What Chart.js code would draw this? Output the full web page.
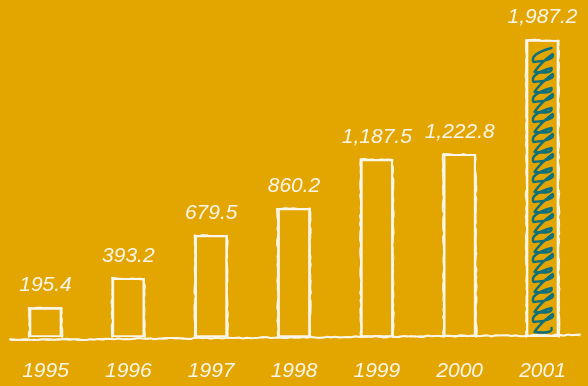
<!DOCTYPE html>
<html>
<head>
<meta charset="utf-8">
<script src="https://cdn.jsdelivr.net/npm/chart.js@4/dist/chart.umd.min.js"></script>
<style>
  html, body { margin: 0; padding: 0; background: #e3a500; }
  #wrap { width: 588px; height: 386px; position: relative; }
</style>
</head>
<body>
<div id="wrap"><canvas id="chart"></canvas></div>
<script>
const years = ['1995', '1996', '1997', '1998', '1999', '2000', '2001'];
const totals = [195.4, 393.2, 679.5, 860.2, 1187.5, 1222.8, 1987.2];
const filledYear = '2001';

const CHALK = '#fbf6ea';
const TEAL = '#10707a';
const FONT = '"Liberation Sans", "DejaVu Sans", sans-serif';

// small seeded generator so the chalk wobble is the same every render
function mulberry32(a) {
  return function () {
    a |= 0; a = a + 0x6D2B79F5 | 0;
    let t = Math.imul(a ^ a >>> 15, 1 | a);
    t = t + Math.imul(t ^ t >>> 7, 61 | t) ^ t;
    return ((t ^ t >>> 14) >>> 0) / 4294967296;
  };
}

function chalkLine(ctx, x1, y1, x2, y2, rnd) {
  const len = Math.hypot(x2 - x1, y2 - y1);
  const steps = Math.max(2, Math.round(len / 4));
  const nx = -(y2 - y1) / len, ny = (x2 - x1) / len;
  ctx.beginPath();
  for (let i = 0; i <= steps; i++) {
    const t = i / steps;
    const j = (rnd() - 0.5) * 1.6;
    const x = x1 + (x2 - x1) * t + nx * j;
    const y = y1 + (y2 - y1) * t + ny * j;
    if (i === 0) ctx.moveTo(x, y); else ctx.lineTo(x, y);
  }
  ctx.stroke();
}

const chalkBars = {
  id: 'chalkBars',
  afterDatasetsDraw(chart) {
    const ctx = chart.ctx;
    const rnd = mulberry32(7);
    const meta = chart.getDatasetMeta(0);
    const base = chart.scales.x.top;
    ctx.save();

    // scribble fill for the highlighted year
    meta.data.forEach((bar, i) => {
      if (chart.data.labels[i] !== filledYear) return;
      const l = bar.x - bar.width / 2 + 5, r = bar.x + bar.width / 2 - 5;
      const top = bar.y + 6, bottom = bar.base - 8;
      ctx.save();
      ctx.strokeStyle = TEAL;
      ctx.lineWidth = 2.4;
      ctx.lineCap = 'round';
      ctx.lineJoin = 'round';
      ctx.beginPath();
      let y = top + 10;
      ctx.moveTo(r - 2, top + 2);
      while (y < bottom) {
        ctx.quadraticCurveTo(l - 2, y - 2, l + 2, y + 6);
        ctx.quadraticCurveTo(r + 3, y + 4, r - 1, y - 2);
        ctx.quadraticCurveTo(l + 8, y + 8, l + 3, y + 16);
        ctx.quadraticCurveTo(r, y + 18, r - 2, y + 12);
        y += 20;
      }
      ctx.stroke();
      ctx.restore();
    });

    // rough chalk outlines on top of the library's bar borders
    ctx.strokeStyle = CHALK;
    ctx.lineCap = 'round';
    meta.data.forEach((bar) => {
      const l = bar.x - bar.width / 2, r = bar.x + bar.width / 2;
      const t = bar.y, b = bar.base;
      for (let pass = 0; pass < 2; pass++) {
        ctx.lineWidth = pass ? 1 : 1.6;
        chalkLine(ctx, l, b, l - 0.5, t, rnd);
        chalkLine(ctx, l - 0.5, t, r, t + 0.5, rnd);
        chalkLine(ctx, r, t + 0.5, r + 0.5, b, rnd);
      }
    });

    // wobbly baseline
    const area = chart.chartArea;
    for (let pass = 0; pass < 2; pass++) {
      ctx.lineWidth = pass ? 1 : 2;
      chalkLine(ctx, area.left + 6, base + 3, area.right - 4, base - 2, rnd);
    }

    // value labels above each bar
    ctx.fillStyle = CHALK;
    ctx.font = 'italic 21px ' + FONT;
    ctx.textAlign = 'center';
    ctx.textBaseline = 'bottom';
    meta.data.forEach((bar, i) => {
      const v = chart.data.datasets[0].data[i];
      const txt = v.toLocaleString('en-US', { minimumFractionDigits: 1, maximumFractionDigits: 1 });
      ctx.fillText(txt, bar.x, bar.y - 12);
    });
    ctx.restore();
  }
};

new Chart(document.getElementById('chart'), {
  type: 'bar',
  data: {
    labels: years,
    datasets: [{
      data: totals,
      backgroundColor: 'rgba(0,0,0,0)',
      borderColor: CHALK,
      borderWidth: 1.5,
      borderSkipped: false,
      barThickness: 32
    }]
  },
  options: {
    responsive: true,
    maintainAspectRatio: false,
    animation: false,
    layout: { padding: { left: 2, right: 4, top: 20, bottom: 0 } },
    plugins: { legend: { display: false }, tooltip: { enabled: false } },
    scales: {
      x: {
        grid: { display: false, drawTicks: false },
        border: { display: false },
        afterFit(scale) { scale.height = 49; },
        ticks: {
          color: CHALK,
          padding: 22,
          maxRotation: 0,
          font: { family: FONT, size: 21, style: 'italic' }
        }
      },
      y: {
        display: false,
        min: 0,
        max: 2121
      }
    }
  },
  plugins: [chalkBars]
});
</script>
</body>
</html>
